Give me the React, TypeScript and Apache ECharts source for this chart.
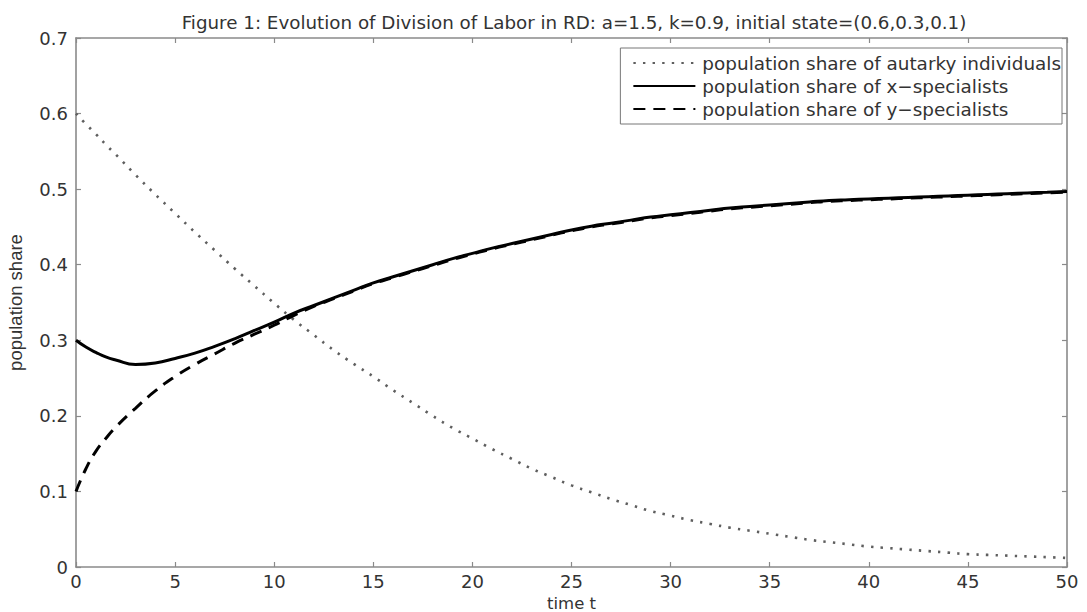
import React, { useEffect, useRef } from "react";
import * as echarts from "echarts";

const TITLE =
  "Figure 1: Evolution of Division of Labor in RD: a=1.5, k=0.9, initial state=(0.6,0.3,0.1)";
const X_NAME = "time t";
const Y_NAME = "population share";
const SERIES_NAMES = [
  "population share of autarky individuals",
  "population share of x\u2212specialists",
  "population share of y\u2212specialists",
];

const timeT = [
  0, 0.5, 1, 1.5, 2, 3, 4, 5, 6, 7, 8, 9, 10, 11, 12, 13, 14, 15, 16, 17, 18, 19, 20,
  21, 22, 23, 24, 25, 26, 27, 28, 29, 30, 31, 32, 33, 34, 35, 36, 37, 38, 39, 40,
  41, 42, 43, 44, 45, 46, 47, 48, 49, 50,
];

const autarky = [
  0.6, 0.586, 0.573, 0.559, 0.546, 0.519, 0.493, 0.468, 0.443, 0.419, 0.395, 0.372,
  0.349, 0.327, 0.307, 0.287, 0.269, 0.252, 0.234, 0.217, 0.2, 0.184, 0.17, 0.156,
  0.143, 0.13, 0.119, 0.108, 0.099, 0.09, 0.082, 0.074, 0.068, 0.062, 0.057, 0.052,
  0.048, 0.044, 0.04, 0.036, 0.033, 0.03, 0.027, 0.025, 0.023, 0.021, 0.019, 0.017,
  0.016, 0.015, 0.014, 0.013, 0.012,
];

const xSpecialists = [
  0.3, 0.291, 0.284, 0.278, 0.274, 0.268, 0.27, 0.276, 0.283, 0.292, 0.302, 0.313,
  0.324, 0.336, 0.346, 0.356, 0.366, 0.376, 0.384, 0.392, 0.4, 0.408, 0.415, 0.422,
  0.428, 0.434, 0.44, 0.446, 0.451, 0.455, 0.459, 0.463, 0.466, 0.469, 0.472, 0.475,
  0.477, 0.479, 0.481, 0.483, 0.485, 0.486, 0.487, 0.488, 0.489, 0.49, 0.491, 0.492,
  0.493, 0.494, 0.495, 0.496, 0.497,
];

const ySpecialists = [
  0.1, 0.13, 0.153, 0.17, 0.185, 0.21, 0.233, 0.252, 0.268, 0.282, 0.296, 0.308,
  0.32, 0.333, 0.345, 0.355, 0.365, 0.375, 0.383, 0.391, 0.399, 0.407, 0.414, 0.421,
  0.427, 0.433, 0.439, 0.445, 0.45, 0.454, 0.458, 0.462, 0.465, 0.468, 0.471, 0.474,
  0.476, 0.478, 0.48, 0.482, 0.484, 0.485, 0.486, 0.487, 0.488, 0.489, 0.49, 0.491,
  0.492, 0.493, 0.494, 0.495, 0.496,
];

const FONT = "DejaVu Sans";
const AXIS_GRAY = "#8a8a8a";
const LABEL_COLOR = "#333333";

function pairs(ys: number[]) {
  return timeT.map((t, i) => [t, ys[i]]);
}

export default function App() {
  const ref = useRef<HTMLDivElement>(null);

  useEffect(() => {
    if (!ref.current) return;
    const chart = echarts.init(ref.current, undefined, { renderer: "svg" });

    const axisCommon = {
      axisLine: { show: true, onZero: false, lineStyle: { color: AXIS_GRAY, width: 1.6 } },
      axisTick: { show: true, inside: true, length: 5, lineStyle: { color: AXIS_GRAY, width: 1.2 } },
      splitLine: { show: false },
    };

    chart.setOption({
      animation: false,
      backgroundColor: "#ffffff",
      title: {
        text: TITLE,
        left: 569,
        textAlign: "center",
        top: 8,
        textStyle: { fontFamily: FONT, fontSize: 18.3, fontWeight: "normal", color: LABEL_COLOR },
      },
      grid: {
        left: 76,
        right: 20,
        top: 38,
        bottom: 45,
        containLabel: false,
        outerBoundsMode: "none",
      },
      legend: {
        orient: "vertical",
        right: 25,
        top: 48,
        padding: [6, 1, 6, 12],
        itemWidth: 62,
        itemHeight: 14,
        itemGap: 5,
        borderColor: "#777777",
        borderWidth: 1,
        borderRadius: 0,
        backgroundColor: "#ffffff",
        itemStyle: { opacity: 0 },
        textStyle: { fontFamily: FONT, fontSize: 18.4, color: LABEL_COLOR, padding: [0, 0, 0, 2] },
        data: SERIES_NAMES,
      },
      xAxis: [
        {
          type: "value",
          min: 0,
          max: 50,
          interval: 5,
          position: "bottom",
          name: X_NAME,
          nameLocation: "middle",
          nameGap: 26,
          nameTextStyle: { fontFamily: FONT, fontSize: 16.5, color: LABEL_COLOR },
          axisLabel: { fontFamily: FONT, fontSize: 18, color: LABEL_COLOR, margin: 5 },
          ...axisCommon,
        },
        {
          type: "value",
          min: 0,
          max: 50,
          interval: 5,
          position: "top",
          axisLabel: { show: false },
          ...axisCommon,
        },
      ],
      yAxis: [
        {
          type: "value",
          min: 0,
          max: 0.7,
          interval: 0.1,
          position: "left",
          name: Y_NAME,
          nameLocation: "middle",
          nameGap: 51,
          nameTextStyle: { fontFamily: "Liberation Sans", fontSize: 18.5, color: LABEL_COLOR },
          axisLabel: {
            fontFamily: FONT,
            fontSize: 18,
            color: LABEL_COLOR,
            margin: 8,
            formatter: (v: number) => (v === 0 ? "0" : v.toFixed(1)),
          },
          ...axisCommon,
        },
        {
          type: "value",
          min: 0,
          max: 0.7,
          interval: 0.1,
          position: "right",
          axisLabel: { show: false },
          ...axisCommon,
        },
      ],
      series: [
        {
          name: SERIES_NAMES[0],
          type: "line",
          xAxisIndex: 0,
          yAxisIndex: 0,
          data: pairs(autarky),
          symbol: "none",
          smooth: true,
          lineStyle: { color: "#5e5e5e", width: 2.6, type: [2.4, 7.2] },
          itemStyle: { color: "#5e5e5e" },
          z: 2,
        },
        {
          name: SERIES_NAMES[1],
          type: "line",
          xAxisIndex: 0,
          yAxisIndex: 0,
          data: pairs(xSpecialists),
          symbol: "none",
          smooth: true,
          lineStyle: { color: "#000000", width: 3, type: "solid" },
          itemStyle: { color: "#000000" },
          z: 3,
        },
        {
          name: SERIES_NAMES[2],
          type: "line",
          xAxisIndex: 0,
          yAxisIndex: 0,
          data: pairs(ySpecialists),
          symbol: "none",
          smooth: true,
          lineStyle: { color: "#000000", width: 3, type: [12, 8] },
          itemStyle: { color: "#000000" },
          z: 4,
        },
      ],
    });

    return () => chart.dispose();
  }, []);

  return (
    <div
      ref={ref}
      style={{ position: "fixed", left: 0, top: 0, width: 1087, height: 612, background: "#fff" }}
    />
  );
}
